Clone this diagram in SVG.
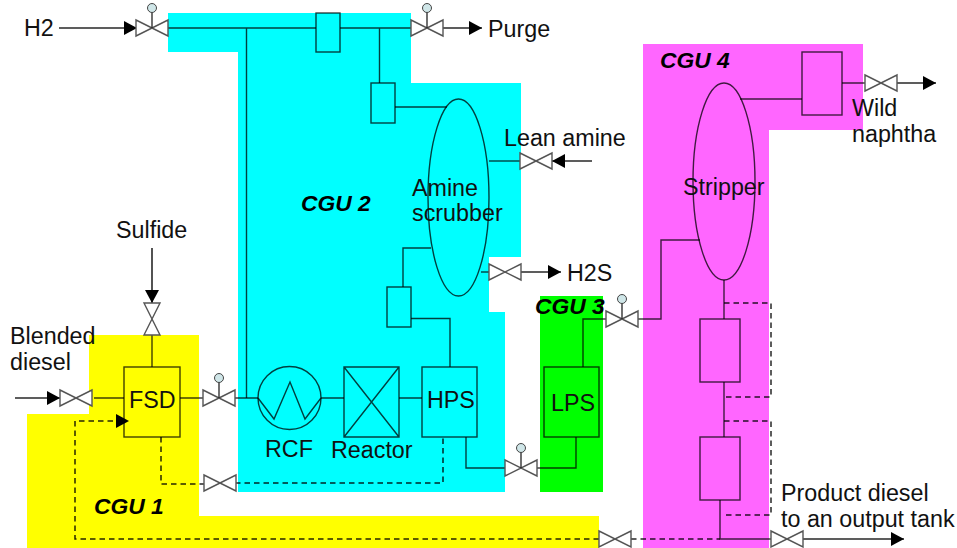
<svg xmlns="http://www.w3.org/2000/svg" width="957" height="548" viewBox="0 0 957 548">
<style>
text{font-family:"Liberation Sans",Arial,sans-serif;font-size:23.3px;fill:#111}
.zone{font-weight:bold;font-style:italic;font-size:22.8px;fill:#000}
.ln{fill:none;stroke:#000;stroke-opacity:.75;stroke-width:1.4}
.ar{fill:none;stroke:#000;stroke-opacity:.85;stroke-width:1.6}
.ds{fill:none;stroke:#000;stroke-opacity:.85;stroke-width:1.5;stroke-dasharray:5.500 4}
.eq{fill:none;stroke:#000;stroke-opacity:.75;stroke-width:1.4}
.vb{fill:#fff;stroke:#555;stroke-width:1.4}
.st{stroke:#222;stroke-width:1.3}
.ci{fill:#cfe6e8;stroke:#444;stroke-width:1}
</style>
<defs>
<marker id="ah" markerWidth="14" markerHeight="14" refX="13" refY="7" orient="auto" markerUnits="userSpaceOnUse"><path d="M0 0L13 7L0 14Z" fill="#000"/></marker>
<g id="v"><path class="vb" d="M-16-8L16 8V-8L-16 8Z"/></g>
<g id="vs"><use href="#v"/><path class="st" d="M0 0V-16"/><circle class="ci" cy="-20" r="4.500"/></g>
</defs>
<g id="zones">
<path id="cgu1-zone" fill="#ff0" d="M89 335H199V516H599V548H27V414H89Z"/>
<path id="cgu2-zone" fill="#0ff" d="M168 13H411V83H521V257H489V312H505V492H238V52H168Z"/>
<rect id="cgu3-zone" fill="#0f0" x="540" y="296" width="63" height="196"/>
<path id="cgu4-zone" fill="#f6f" d="M643 44H863V130H769V548H643Z"/>
</g>
<g id="connectors">
<path class="ar" d="M59 28H137" marker-end="url(#ah)"/>
<path class="ln" d="M168 28H316M340 28H411M246.500 28V398M379.500 28V83M395 107H447"/>
<path class="ar" d="M443 28H482" marker-end="url(#ah)"/>
<path class="ln" d="M489 161H520"/>
<path class="ar" d="M592 161H552" marker-end="url(#ah)"/>
<path class="ln" d="M481 272H489"/>
<path class="ar" d="M521 272H561" marker-end="url(#ah)"/>
<path class="ln" d="M431 248H403V287M411 318.500H450V367"/>
<path class="ln" d="M235 398H258M321 398H344M399 398H422M180 398H203M94 398H124"/>
<path class="ar" d="M152 248V303" marker-end="url(#ah)"/>
<path class="ln" d="M152 335V367"/>
<path class="ar" d="M15 398H60" marker-end="url(#ah)"/>
<path class="ds" d="M161 437V484H204M235 483H443V437"/>
<path class="ds" d="M599 539H75V421H116"/>
<path d="M116 414L129 421L116 428Z" fill="#000"/>
<path class="ln" d="M466 437V468H505M537 468H576V437M583 367V319H606M638 319H661V240H700"/>
<path class="ln" d="M740 99H802M842 83H865"/>
<path class="ar" d="M897 83H936" marker-end="url(#ah)"/>
<path class="ln" d="M724 280V319M724 382V437M720 500V539H771"/>
<path class="ds" d="M724 303H771V397H724M724 421H771V515H724M631 539H720"/>
<path class="ar" d="M803 539H904" marker-end="url(#ah)"/>
</g>
<g id="valves">
<use href="#vs" x="152" y="28"/>
<use href="#vs" x="427" y="28"/>
<use href="#v" x="536" y="161"/>
<use href="#v" x="505" y="272"/>
<use href="#v" x="881" y="83"/>
<path class="vb" d="M144 303H160L144 335H160Z"/>
<use href="#v" x="76" y="398"/>
<use href="#vs" x="219" y="398"/>
<use href="#v" x="220" y="483"/>
<use href="#vs" x="521" y="468"/>
<use href="#vs" x="622" y="319"/>
<use href="#v" x="615" y="539"/>
<use href="#v" x="787" y="539"/>
</g>
<g id="fsd"><rect class="eq" x="124" y="367" width="56" height="70"/><text x="129" y="408">FSD</text></g>
<g id="rcf"><circle class="eq" cx="289.500" cy="398" r="31.500"/><path class="eq" d="M258 398L274 419L290 382L305 419L321 398"/><text x="265" y="457">RCF</text></g>
<g id="reactor"><path class="eq" d="M344 367H399V437H344ZM344 367L399 437M399 367L344 437"/><text x="331" y="458">Reactor</text></g>
<g id="hps"><rect class="eq" x="422" y="367" width="55" height="70"/><text x="427" y="408">HPS</text></g>
<g id="lps"><rect class="eq" x="544" y="367" width="55" height="70"/><text x="551" y="411">LPS</text></g>
<g id="drum1"><rect class="eq" x="316" y="13" width="24" height="39"/></g>
<g id="drum2"><rect class="eq" x="371" y="83" width="24" height="40"/></g>
<g id="drum3"><rect class="eq" x="387" y="287" width="24" height="40"/></g>
<g id="scrubber"><ellipse class="eq" cx="458.500" cy="197.500" rx="30.500" ry="98.500"/><text x="412" y="196">Amine</text><text x="412" y="221">scrubber</text></g>
<g id="stripper"><ellipse class="eq" cx="724" cy="181.500" rx="31" ry="98.500"/><text x="683" y="195">Stripper</text></g>
<g id="drum4"><rect class="eq" x="802" y="52" width="40" height="63"/></g>
<g id="exch1"><rect class="eq" x="700" y="319" width="40" height="63"/></g>
<g id="exch2"><rect class="eq" x="700" y="437" width="40" height="63"/></g>
<g id="labels">
<text x="24" y="36">H2</text>
<text x="488" y="37">Purge</text>
<text x="116" y="238">Sulfide</text>
<text x="10" y="344">Blended</text>
<text x="10" y="370">diesel</text>
<text x="504" y="146">Lean amine</text>
<text x="567" y="281">H2S</text>
<text x="852" y="116">Wild</text>
<text x="852" y="142">naphtha</text>
<text x="781" y="501">Product diesel</text>
<text x="781" y="527">to an output tank</text>
<text class="zone" x="94" y="514">CGU 1</text>
<text class="zone" x="301" y="211">CGU 2</text>
<text class="zone" x="535" y="314">CGU 3</text>
<text class="zone" x="660" y="68">CGU 4</text>
</g>
</svg>
